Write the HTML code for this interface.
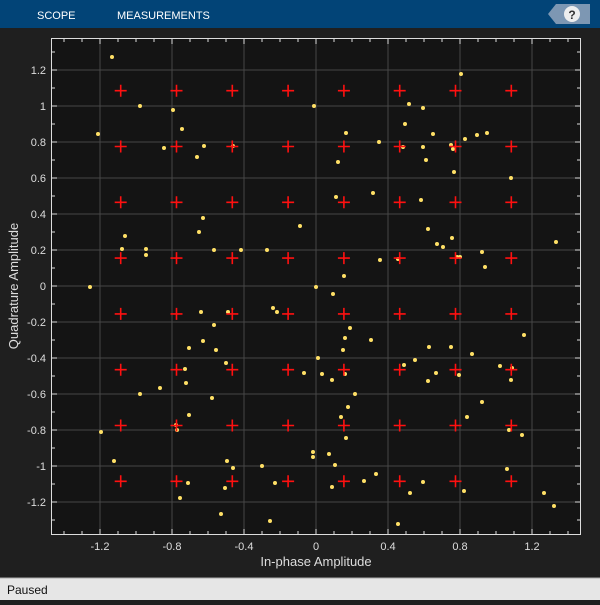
<!DOCTYPE html>
<html><head><style>
body{margin:0;width:600px;height:600px;background:#1f1f1f;overflow:hidden;font-family:"Liberation Sans",sans-serif}
</style></head><body>
<svg width="600" height="600" xmlns="http://www.w3.org/2000/svg" font-family="Liberation Sans, sans-serif">
<rect x="0" y="0" width="600" height="600" fill="#1f1f1f"/>
<rect x="0" y="0" width="600" height="28" fill="#024477"/>
<text x="37" y="19" fill="#fff" font-size="11">SCOPE</text>
<text x="117" y="19" fill="#fff" font-size="11">MEASUREMENTS</text>
<polygon points="556,4 590,4 590,24 556,24 548,14" fill="#7d97b3"/>
<circle cx="572" cy="14" r="8" fill="#eee"/>
<text x="572" y="19" fill="#333" font-size="12" font-weight="bold" text-anchor="middle">?</text>
<rect x="0" y="578" width="600" height="22" fill="#e6e6e6"/>
<line x1="0" y1="578" x2="600" y2="578" fill="none" stroke="#aaa"/>
<text x="7" y="594" fill="#111" font-size="12">Paused</text>
<rect x="51.5" y="38.5" width="529" height="496" fill="#141414" stroke="#ddd" stroke-width="1"/>
<g id="g"></g>
<text x="316" y="566" fill="#ddd" font-size="13" text-anchor="middle">In-phase Amplitude</text>
<text transform="translate(18,286) rotate(-90)" fill="#ddd" font-size="13" text-anchor="middle">Quadrature Amplitude</text>
</svg>
<script>
const g=document.getElementById('g');const NS="http://www.w3.org/2000/svg";
function el(t,a,txt){const e=document.createElementNS(NS,t);for(const k in a)e.setAttribute(k,a[k]);if(txt!==undefined)e.textContent=txt;g.appendChild(e);return e;}
const X=v=>316+180*v,Y=v=>286-180*v;
for(let i=-14;i<=14;i++){const x=X(i/10);if(x<52||x>580)continue;
 if(i%4==0){el('line',{x1:x,y1:39,x2:x,y2:534,stroke:'#464646'});el('text',{x:x,y:550,fill:'#ddd','font-size':11,'text-anchor':'middle'},String(+(i/10).toFixed(1)));}
 el('line',{x1:x,y1:534,x2:x,y2:i%4==0?529:531,stroke:'#ddd'});el('line',{x1:x,y1:39,x2:x,y2:i%4==0?44:42,stroke:'#ddd'});}
for(let i=-13;i<=13;i++){const y=Y(i/10);
 if(i%2==0){el('line',{x1:52,y1:y,x2:580,y2:y,stroke:'#464646'});el('text',{x:46,y:y+4,fill:'#ddd','font-size':11,'text-anchor':'end'},String(+(i/10).toFixed(1)));}
 el('line',{x1:52,y1:y,x2:i%2==0?57:55,y2:y,stroke:'#ddd'});el('line',{x1:580,y1:y,x2:i%2==0?575:577,y2:y,stroke:'#ddd'});}
const pts=[[112,57],[98,134],[140,106],[173,110],[182,129],[164,148],[204,146],[197,157],[233,146],[125,236],[122,249],[146,249],[146,255],[203,218],[199,232],[214,250],[241,250],[267,250],[300,226],[90,287],
[461,74],[314,106],[409,104],[423,108],[433,134],[405,124],[403,147],[379,142],[336,197],[373,193],[346,133],[338,162],[465,139],[477,135],[487,133],[423,147],[426,160],[451,145],[453,149],[421,200],[454,172],[556,242],[511,178],[428,229],[437,244],[443,247],[452,238],[460,257],[457,257],[482,252],[485,267],[380,260],[398,259],
[316,287],[333,294],[344,276],[350,328],[345,338],[343,350],[371,340],[318,358],[332,380],[322,374],[304,373],[345,374],[355,394],[348,407],[341,417],[346,438],
[228,312],[201,312],[273,308],[277,312],[214,325],[203,341],[189,348],[216,350],[226,363],[185,369],[186,383],[212,398],[189,415],[160,388],[140,394],[176,425],[177,430],[101,432],[114,461],[180,498],[188,483],[225,488],[227,461],[233,468],[221,514],[262,466],[275,483],[270,521],
[404,365],[415,360],[436,373],[428,381],[429,347],[451,347],[459,375],[472,354],[500,366],[512,368],[511,380],[524,335],[467,417],[482,402],[509,430],[522,435],[507,469],[544,493],[554,506],[464,491],[410,493],[423,482],[398,524],[364,481],[376,474],[332,487],[329,454],[313,452],[313,457],[335,465]];
for(const [x,y] of pts)el('circle',{cx:x,cy:y,r:2,fill:'#ffe066'});
const L=[-1.085,-0.775,-0.465,-0.155,0.155,0.465,0.775,1.085];
for(const a of L)for(const b of L){const x=X(a),y=Y(b);el('path',{d:`M${x-6} ${y}H${x+6}M${x} ${y-6}V${y+6}`,stroke:'#ff1010','stroke-width':1.6});}
</script>
</body></html>
